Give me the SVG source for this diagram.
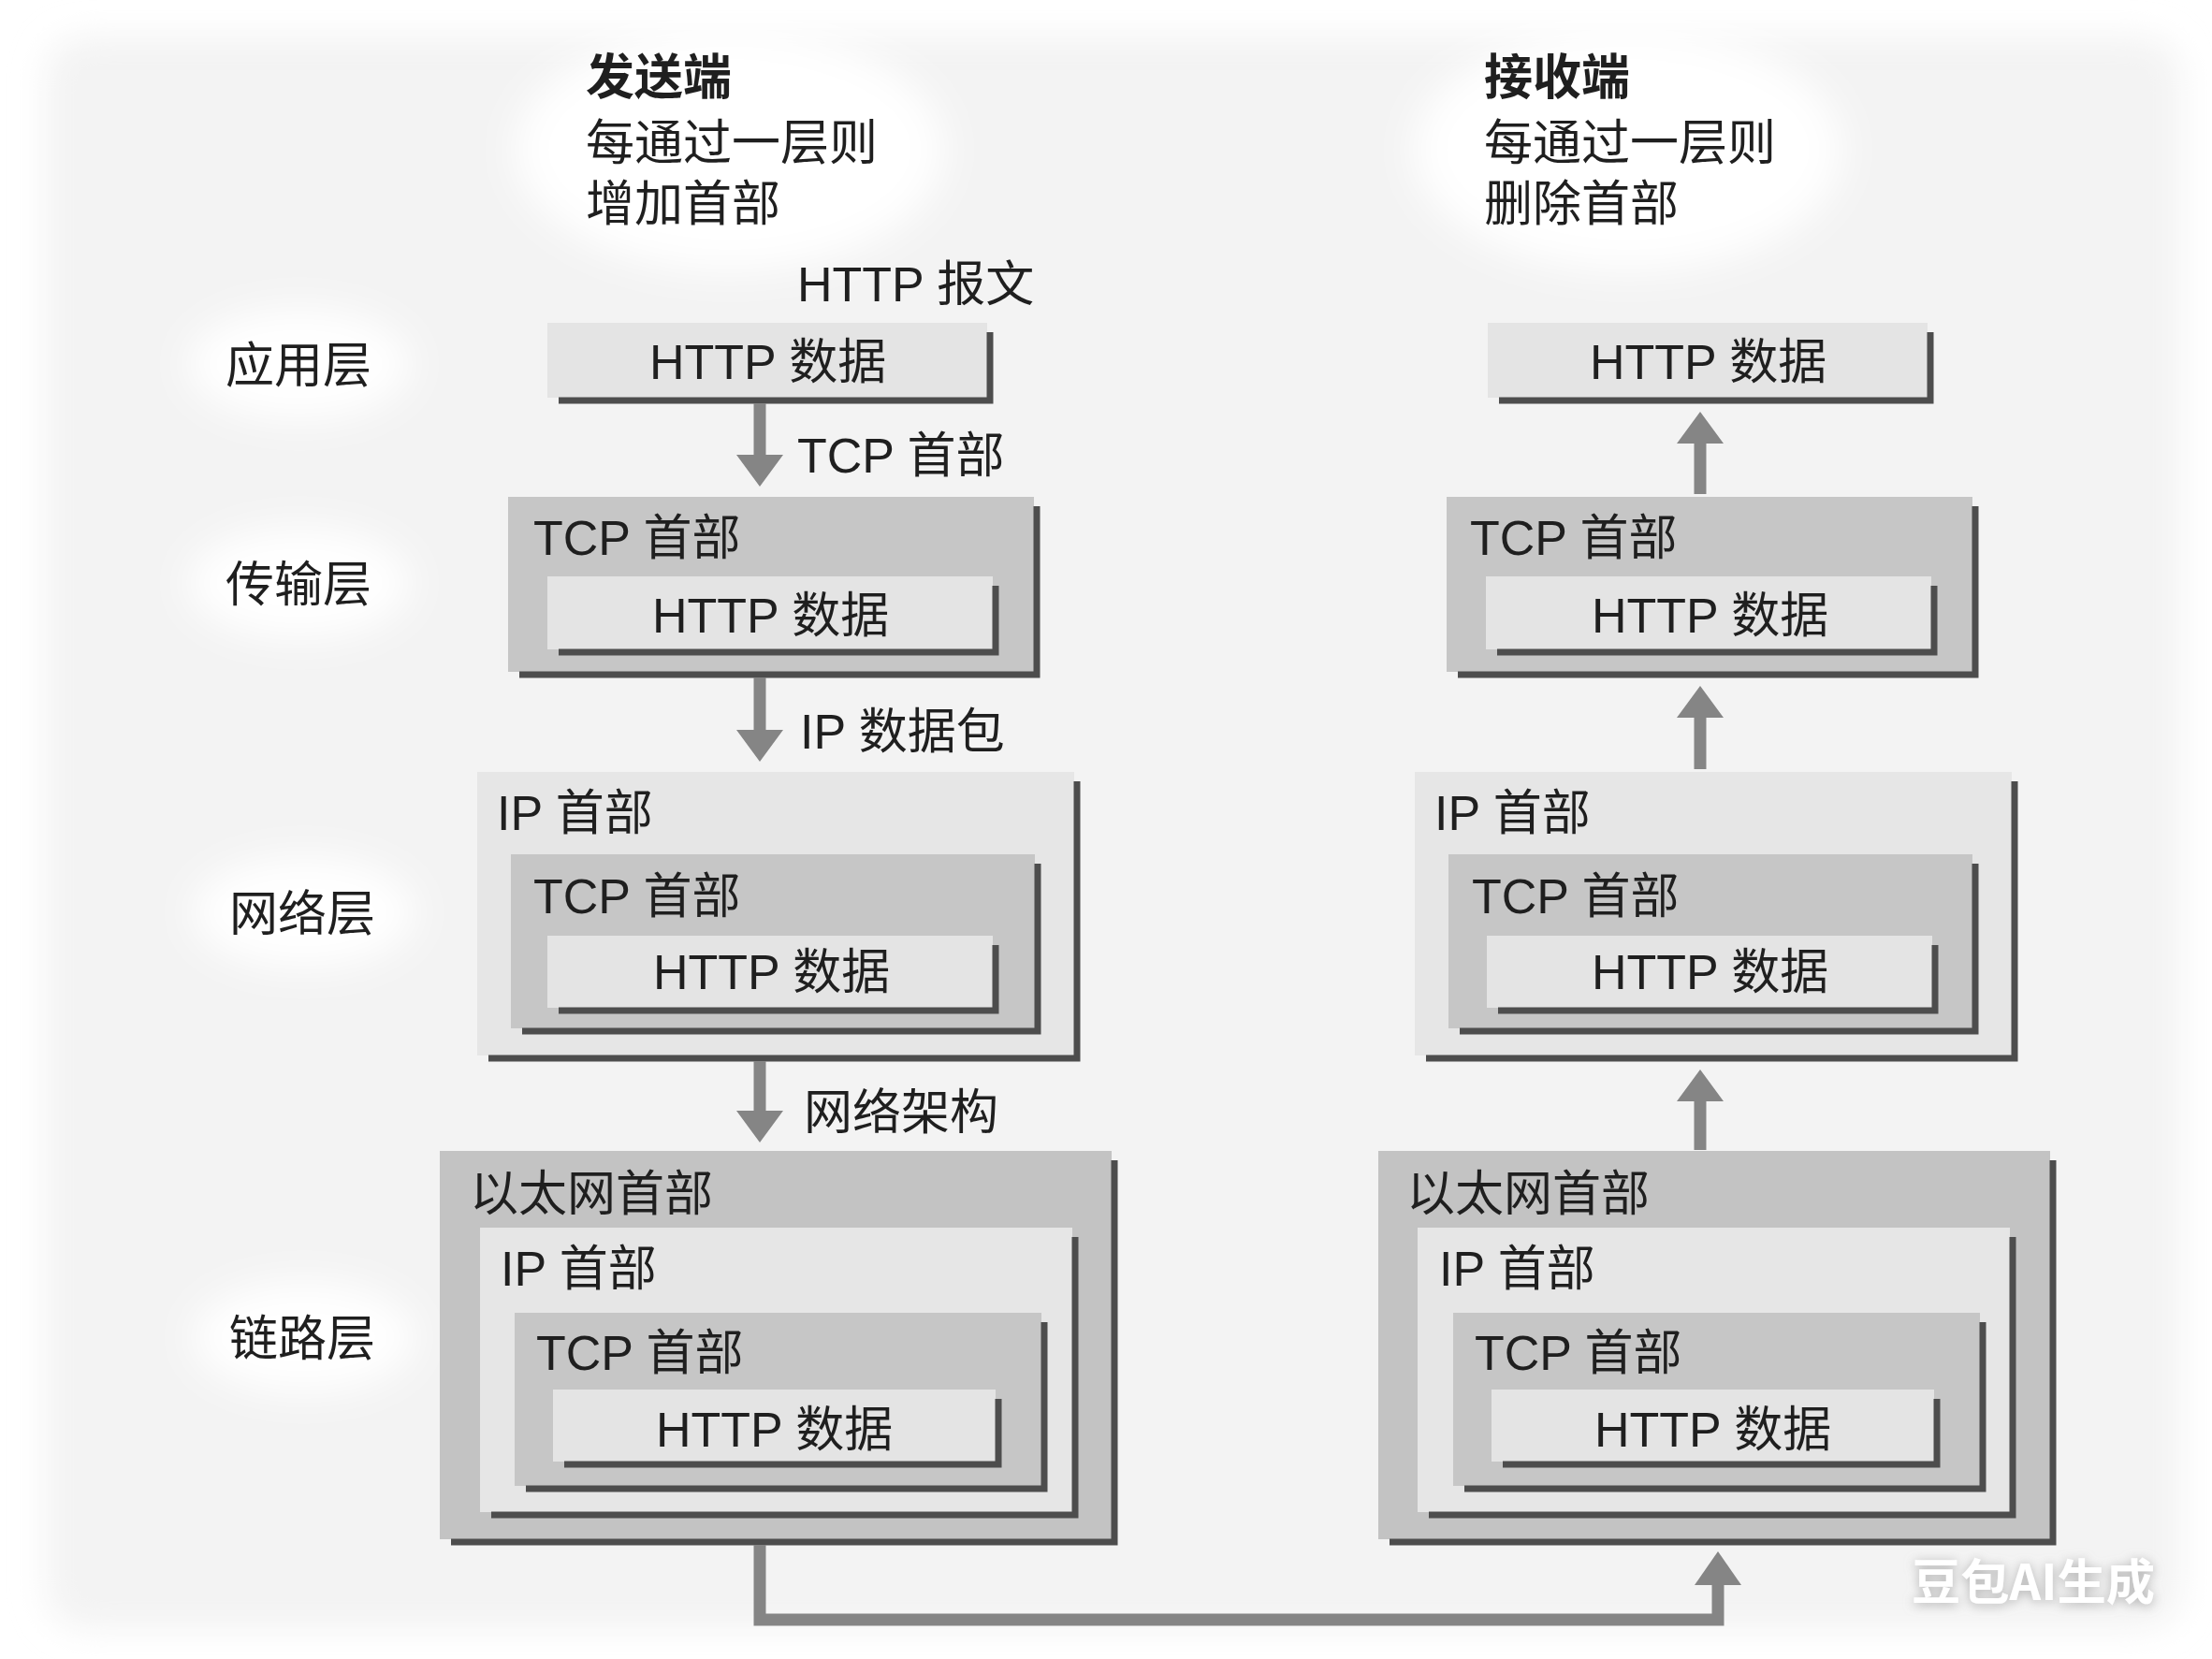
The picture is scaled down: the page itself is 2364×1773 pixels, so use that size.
<svg xmlns="http://www.w3.org/2000/svg" width="2364" height="1773" viewBox="0 0 2364 1773">
<style>
text{font-family:"Liberation Sans","Noto Sans CJK SC",sans-serif;font-size:52px;fill:#1f1f1f}
.h{font-weight:bold}
.http{fill:#e4e4e4}
.tcp{fill:#c6c6c6}
.ip{fill:#e6e6e6}
.eth{fill:#c3c3c3}
.sh{fill:none;stroke:#4d4d4d;stroke-width:7}
.arw{fill:#858585}
.con{fill:none;stroke:#858585;stroke-width:13}
.wm{font-family:"Noto Sans CJK SC",sans-serif;font-weight:bold;fill:#ffffff}
</style>
<defs>
<filter id="soft" x="-10%" y="-10%" width="120%" height="120%"><feGaussianBlur stdDeviation="18"/></filter>
<filter id="glow" x="-50%" y="-50%" width="200%" height="200%"><feGaussianBlur stdDeviation="20"/></filter>
<filter id="wmshadow" x="-20%" y="-40%" width="140%" height="180%"><feDropShadow dx="0" dy="2" stdDeviation="6" flood-color="#9a9a9a" flood-opacity="0.8"/></filter>
</defs>
<rect x="0" y="0" width="2364" height="1773" fill="#ffffff"/>
<rect x="50" y="40" width="2280" height="1700" rx="40" fill="#f3f3f3" filter="url(#soft)"/>
<g filter="url(#glow)" fill="#ffffff">
<ellipse cx="320" cy="389" rx="120" ry="60"/>
<ellipse cx="320" cy="623" rx="120" ry="60"/>
<ellipse cx="325" cy="975" rx="120" ry="60"/>
<ellipse cx="325" cy="1429" rx="120" ry="60"/>
<ellipse cx="780" cy="160" rx="230" ry="130"/>
<ellipse cx="1740" cy="160" rx="230" ry="130"/>
</g>

<g id="headings">
<text class="h" x="626" y="101">发送端</text>
<text x="626" y="171">每通过一层则</text>
<text x="626" y="236">增加首部</text>
<text class="h" x="1586" y="101">接收端</text>
<text x="1586" y="171">每通过一层则</text>
<text x="1586" y="236">删除首部</text>
<text x="852" y="322">HTTP 报文</text>
</g>

<g id="layer-labels">
<text x="241" y="409">应用层</text>
<text x="241" y="643">传输层</text>
<text x="245" y="995">网络层</text>
<text x="245" y="1449">链路层</text>
</g>

<g id="sender-app">
<rect class="http" x="585" y="345" width="470" height="80"/>
<path class="sh" d="M597,428 H1058 V355"/>
<text x="694" y="405">HTTP 数据</text>
</g>

<g id="sender-transport">
<rect class="tcp" x="543" y="531" width="562" height="187"/>
<path class="sh" d="M555,721 H1108 V541"/>
<text x="570" y="593">TCP 首部</text>
<rect class="http" x="585" y="616" width="476" height="78"/>
<path class="sh" d="M597,697 H1064 V626"/>
<text x="697" y="676">HTTP 数据</text>
</g>

<g id="sender-network">
<rect class="ip" x="510" y="825" width="638" height="303"/>
<path class="sh" d="M522,1131 H1151 V835"/>
<text x="531" y="887">IP 首部</text>
<rect class="tcp" x="546" y="913" width="560" height="186"/>
<path class="sh" d="M558,1102 H1109 V923"/>
<text x="570" y="976">TCP 首部</text>
<rect class="http" x="585" y="1000" width="476" height="77"/>
<path class="sh" d="M597,1080 H1064 V1010"/>
<text x="698" y="1057">HTTP 数据</text>
</g>

<g id="sender-link">
<rect class="eth" x="470" y="1230" width="718" height="415"/>
<path class="sh" d="M482,1648 H1191 V1240"/>
<text x="502" y="1294">以太网首部</text>
<rect class="ip" x="513" y="1312" width="633" height="304"/>
<path class="sh" d="M525,1619 H1149 V1322"/>
<text x="535" y="1374">IP 首部</text>
<rect class="tcp" x="550" y="1403" width="563" height="185"/>
<path class="sh" d="M562,1591 H1116 V1413"/>
<text x="573" y="1464">TCP 首部</text>
<rect class="http" x="591" y="1485" width="473" height="77"/>
<path class="sh" d="M603,1565 H1067 V1495"/>
<text x="701" y="1546">HTTP 数据</text>
</g>

<g id="receiver-app">
<rect class="http" x="1590" y="345" width="470" height="80"/>
<path class="sh" d="M1602,428 H2063 V355"/>
<text x="1699" y="405">HTTP 数据</text>
</g>

<g id="receiver-transport">
<rect class="tcp" x="1546" y="531" width="562" height="187"/>
<path class="sh" d="M1558,721 H2111 V541"/>
<text x="1571" y="593">TCP 首部</text>
<rect class="http" x="1588" y="616" width="476" height="78"/>
<path class="sh" d="M1600,697 H2067 V626"/>
<text x="1701" y="676">HTTP 数据</text>
</g>

<g id="receiver-network">
<rect class="ip" x="1512" y="825" width="638" height="303"/>
<path class="sh" d="M1524,1131 H2153 V835"/>
<text x="1533" y="887">IP 首部</text>
<rect class="tcp" x="1548" y="913" width="560" height="186"/>
<path class="sh" d="M1560,1102 H2111 V923"/>
<text x="1573" y="976">TCP 首部</text>
<rect class="http" x="1589" y="1000" width="476" height="77"/>
<path class="sh" d="M1601,1080 H2068 V1010"/>
<text x="1701" y="1057">HTTP 数据</text>
</g>

<g id="receiver-link">
<rect class="eth" x="1473" y="1230" width="718" height="415"/>
<path class="sh" d="M1485,1648 H2194 V1240"/>
<text x="1503" y="1294">以太网首部</text>
<rect class="ip" x="1515" y="1312" width="633" height="304"/>
<path class="sh" d="M1527,1619 H2151 V1322"/>
<text x="1538" y="1374">IP 首部</text>
<rect class="tcp" x="1553" y="1403" width="563" height="185"/>
<path class="sh" d="M1565,1591 H2119 V1413"/>
<text x="1576" y="1464">TCP 首部</text>
<rect class="http" x="1594" y="1485" width="473" height="77"/>
<path class="sh" d="M1606,1565 H2070 V1495"/>
<text x="1704" y="1546">HTTP 数据</text>
</g>

<g id="connectors">
<path class="arw" d="M805.5,431 H818.5 V486 H837 L812,520 L787,486 H805.5 Z"/>
<path class="arw" d="M805.5,724 H818.5 V780 H837 L812,814 L787,780 H805.5 Z"/>
<path class="arw" d="M805.5,1134 H818.5 V1187 H837 L812,1221 L787,1187 H805.5 Z"/>
<path class="arw" d="M1810.5,528 H1823.5 V474 H1842 L1817,440 L1792,474 H1810.5 Z"/>
<path class="arw" d="M1810.5,822 H1823.5 V767 H1842 L1817,733 L1792,767 H1810.5 Z"/>
<path class="arw" d="M1810.5,1229 H1823.5 V1177 H1842 L1817,1143 L1792,1177 H1810.5 Z"/>
<path class="con" d="M812,1651 V1731 H1836 V1690"/>
<path class="arw" d="M1861,1694 L1836,1658 L1811,1694 Z"/>
<text x="852" y="505">TCP 首部</text>
<text x="855" y="800">IP 数据包</text>
<text x="859" y="1207">网络架构</text>
</g>

<text class="wm" x="2043" y="1710" font-size="54" textLength="260" lengthAdjust="spacingAndGlyphs" filter="url(#wmshadow)">豆包AI生成</text>
</svg>
